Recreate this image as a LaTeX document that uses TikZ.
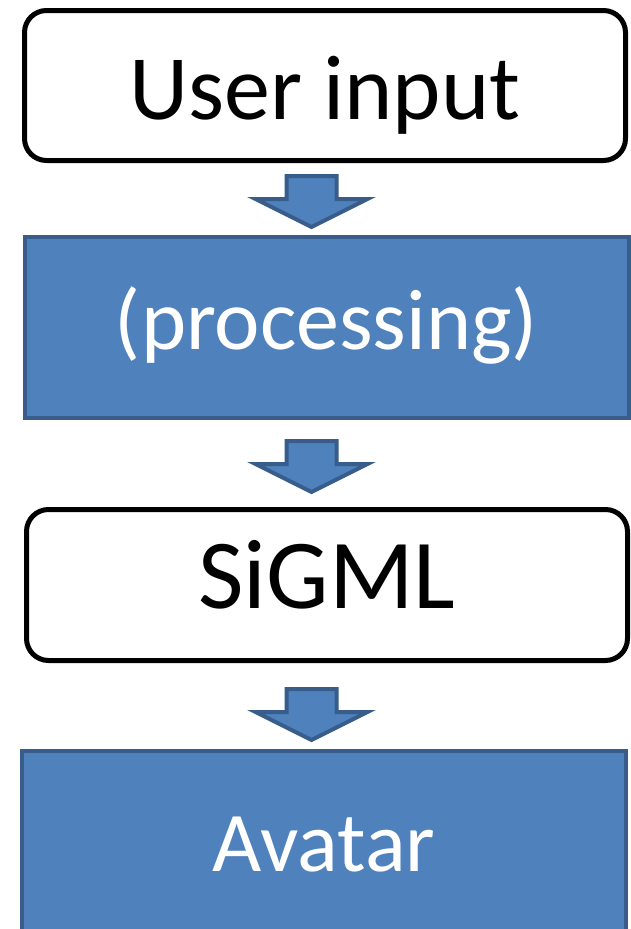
\documentclass[tikz,border=0pt]{standalone}
\usepackage{fontspec}
\setmainfont{Carlito}
\usetikzlibrary{positioning}
\definecolor{officeblue}{RGB}{79, 129, 189}
\definecolor{officeedge}{RGB}{56, 93, 138}

\tikzset{
  plainbox/.style={draw=black, fill=white, line width=5pt, rounded corners=22pt,
                   minimum width=601pt, inner sep=0pt, text depth=0pt},
  bluebox/.style={draw=officeedge, fill=officeblue, line width=4pt, text=white,
                  minimum width=604pt, minimum height=181pt, inner sep=0pt, text depth=0pt},
  flowarrow/.style={draw=officeedge, fill=officeblue, line width=4pt, line join=miter}
}

% block arrow, #1 = name of the top centre of the shaft
\newcommand{\downarrowblock}[1]{%
  \draw[flowarrow] ([shift={(-25,0)}]#1) -- ++(50,0) -- ++(0,23) -- ++(31,0)
        -- ([shift={(0,51)}]#1) -- ++(-56,-28) -- ++(31,0) -- cycle;}
\newcommand{\bigtext}[1]{\fontsize{#1}{#1}\selectfont}

\begin{document}
\begin{tikzpicture}[x=1pt, y=-1pt]
            \useasboundingbox (0,0) rectangle (630,929);
            \fill[white] (0,0) rectangle (630,929);

            \node[plainbox, minimum height=150pt, text height=67pt, font=\bigtext{92}] (user)   at (325.0,  85.5) {User input};
            \node[bluebox,  text height=43pt, font=\bigtext{86}]                       (proc)   at (326.5, 327.5) {(processing)};
            \node[plainbox, minimum height=151pt, text height=46pt, font=\bigtext{99}] (sigml)  at (327.0, 585.0) {SiGML};
            \node[bluebox,  text height=59pt, font=\bigtext{85}]                       (avatar) at (324.0, 841.5) {Avatar};

            \coordinate (a1) at (311.5, 176);
            \coordinate (a2) at (311.5, 441);
            \coordinate (a3) at (311.5, 689);
            \downarrowblock{a1}
            \downarrowblock{a2}
            \downarrowblock{a3}
        \end{tikzpicture}
\end{document}
